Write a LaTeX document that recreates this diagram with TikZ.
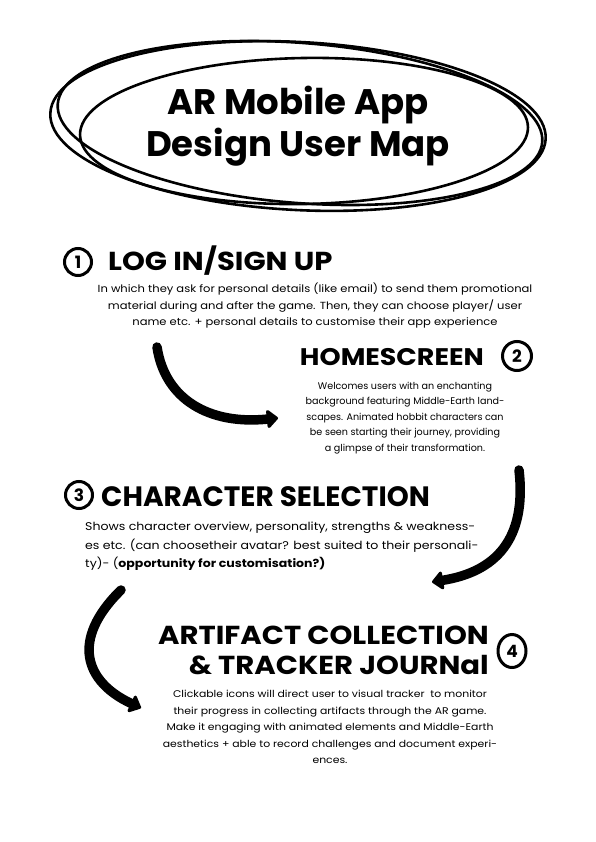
\documentclass[tikz,border=0pt]{standalone}
\usepackage{fontspec}
\setmainfont{Poppins}
\newfontfamily\widefont[FakeStretch=1.12]{Poppins}
\usetikzlibrary{arrows.meta,shapes.geometric}
\begin{document}
\begin{tikzpicture}[x=1pt,y=-1pt,
  loopline/.style={line width=2.6pt},
  titletext/.style={font=\fontsize{35.5}{42}\selectfont\bfseries, align=center, inner sep=0pt},
  heading/.style={font=\widefont\fontsize{26}{30}\selectfont\bfseries, inner sep=0pt},
  body/.style={font=\fontsize{9.6}{15.5}\selectfont, align=center, inner sep=0pt},
  numring/.style={draw, line width=3pt, circle, minimum size=27pt, inner sep=0pt,
    font=\fontsize{17}{17}\selectfont\bfseries},
  flow/.style={line width=9.5pt, line cap=round,
    -{Triangle[length=12pt,width=21pt,round]}},
]
\useasboundingbox (0,0) rectangle (596,842);
\fill[white] (0,0) rectangle (596,842);

% scribbled loops around the title
\draw[loopline, rotate around={-3:(298,126)}] (298,126) ellipse [x radius=248, y radius=84];
\draw[loopline, rotate around={-4.5:(300,123)}] (300,123) ellipse [x radius=243, y radius=80];
\draw[loopline, rotate around={1:(304,131)}] (304,131) ellipse [x radius=224, y radius=73];

\node[titletext] (title) at (298,126) {AR Mobile App\\Design User Map};

% step 1
\node[numring] (n1) at (78,262) {1};
\node[heading, anchor=west] (h1) at (108,261) {LOG IN/SIGN UP};
\node[body, font=\widefont\fontsize{10.3}{16.5}\selectfont] (b1) at (315,306) {In which they ask for personal details (like email) to send them promotional\\
material during and after the game. Then, they can choose player/ user\\
name etc. + personal details to customise their app experience};

% step 2
\node[numring, minimum size=29pt] (n2) at (517,356) {2};
\node[heading, anchor=east, font=\widefont\fontsize{24}{30}\selectfont\bfseries] (h2) at (484,357) {HOMESCREEN};
\node[body] (b2) at (405,418) {Welcomes users with an enchanting\\
background featuring Middle-Earth land-\\
scapes. Animated hobbit characters can\\
be seen starting their journey, providing\\
a glimpse of their transformation.};

% step 3
\node[numring] (n3) at (79,495) {3};
\node[heading, anchor=west, font=\fontsize{28}{30}\selectfont\bfseries] (h3) at (101,497) {CHARACTER SELECTION};
\node[body, align=left, anchor=north west, font=\widefont\fontsize{11.2}{18.5}\selectfont] (b3) at (85,522) {Shows character overview, personality, strengths \& weakness-\\
es etc. (can choosetheir avatar? best suited to their personali-\\
ty)- (\textbf{opportunity for customisation?)}};

% step 4
\node[numring, ellipse, minimum width=28pt, minimum height=33pt] (n4) at (512,651) {4};
\node[heading, align=right, anchor=east] (h4) at (489,650) {ARTIFACT COLLECTION\\\& TRACKER JOURNal};
\node[body, font=\widefont\fontsize{9.7}{16.5}\selectfont] (b4) at (330,727) {Clickable icons will direct user to visual tracker \ to monitor\\
their progress in collecting artifacts through the AR game.\\
Make it engaging with animated elements and Middle-Earth\\
aesthetics + able to record challenges and document experi-\\
ences.};

% flow arrows between the steps
\coordinate (a1s) at (157,347);
\coordinate (a1e) at (278,418);
\coordinate (a2s) at (519,470);
\coordinate (a2e) at (432,582);
\coordinate (a3s) at (121,590);
\coordinate (a3e) at (141,708);
\draw[flow] (a1s) .. controls (165,400) and (210,425) .. (a1e);
\draw[flow] (a2s) .. controls (527,540) and (495,572) .. (a2e);
\draw[flow] (a3s) .. controls (70,640) and (85,682) .. (a3e);
\end{tikzpicture}
\end{document}
